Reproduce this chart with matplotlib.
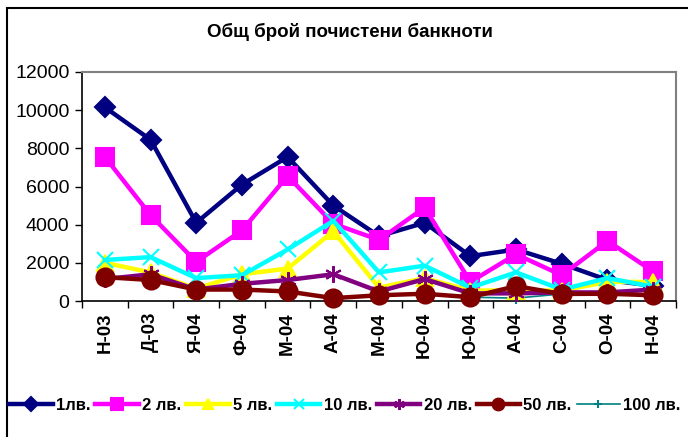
import matplotlib
matplotlib.use("Agg")
import matplotlib.pyplot as plt
from matplotlib.patches import Rectangle

# ── Data ──
cats = ["Н-03", "Д-03", "Я-04", "Ф-04", "М-04", "А-04", "М-04",
        "Ю-04", "Ю-04", "А-04", "С-04", "О-04", "Н-04"]

lv1 = [10150, 8450, 4100, 6100, 7550, 5000, 3400, 4100, 2350, 2700, 1950, 1100, 800]
lv2 = [7550, 4500, 2050, 3700, 6550, 4050, 3200, 4900, 1000, 2450, 1350, 3150, 1550]
lv5 = [2000, 1500, 650, 1400, 1700, 3650, 700, 1200, 550, 550, 550, 1000, 1000]
lv10 = [2150, 2300, 1200, 1350, 2700, 4200, 1500, 1850, 700, 1500, 600, 1200, 750]
lv20 = [1150, 1400, 600, 900, 1100, 1400, 500, 1150, 400, 400, 450, 450, 600]
lv50 = [1250, 1100, 600, 600, 500, 150, 300, 380, 200, 780, 370, 380, 300]
lv100 = [1250, 1100, 600, 600, 500, 150, 300, 380, 200, 150, 370, 380, 300]

plt.rcParams["font.family"] = ["Liberation Sans", "DejaVu Sans"]

fig = plt.figure(figsize=(6.88, 4.37), dpi=100)
ax = fig.add_axes([82 / 688, 1 - 301 / 437, 594 / 688, 229 / 437])

x = list(range(len(cats)))
# (label, values, colour, marker, markersize, linewidth, zorder)
series = [
    ("1лв.", lv1, "#000080", "D", 10.5, 3.2, 3),
    ("2 лв.", lv2, "#FF00FF", "s", 12.5, 3.2, 4),
    ("5 лв.", lv5, "#FFFF00", "^", 11, 3.2, 5),
    ("10 лв.", lv10, "#00FFFF", "x", 11, 3.2, 6),
    ("20 лв.", lv20, "#800080", (6, 2, 0), 12, 3.2, 7),
    ("50 лв.", lv50, "#800000", "o", 13, 3.2, 8),
    ("100 лв.", lv100, "#008080", "+", 9, 1.2, 2),
]
for label, vals, col, mk, ms, lw, z in series:
    ax.plot(x, vals, color=col, marker=mk, markersize=ms, linewidth=lw,
            markeredgecolor=col, markerfacecolor=col, markeredgewidth=1.5,
            label=label, clip_on=False, zorder=z)

ax.set_xlim(-0.5, len(cats) - 0.5)
ax.set_ylim(0, 12000)
ax.set_yticks(range(0, 12001, 2000))
ax.tick_params(axis="y", labelsize=14, direction="out", length=5, width=1, pad=4)

ax.set_xticks(x)
ax.set_xticklabels(cats, rotation=90, fontsize=13.5, fontweight="bold")
ax.set_xticks([i - 0.5 for i in range(len(cats) + 1)], minor=True)
ax.tick_params(axis="x", which="major", length=0, pad=8)
ax.tick_params(axis="x", which="minor", direction="out", length=5, width=1)

for side in ("top", "right"):
    ax.spines[side].set_color("#808080")
    ax.spines[side].set_linewidth(1.5)
for side in ("left", "bottom"):
    ax.spines[side].set_linewidth(1.2)

fig.text(350 / 688, 1 - 32 / 437, "Общ брой почистени банкноти",
         ha="center", va="center", fontsize=13.5, fontweight="bold")

fig.legend(loc="center", bbox_to_anchor=(345 / 688, 1 - 405 / 437), ncol=7,
           frameon=False, handlelength=2.6, handletextpad=0.2, columnspacing=0.3,
           prop={"size": 12, "weight": "bold"}, markerscale=0.65)

# outer chart frame
fig.patches.append(Rectangle((7 / 688, -0.1), 1.2, 1 - 8 / 437 + 0.1,
                             transform=fig.transFigure, fill=False,
                             edgecolor="black", linewidth=1.5))

fig.savefig("out.png", dpi=100)
